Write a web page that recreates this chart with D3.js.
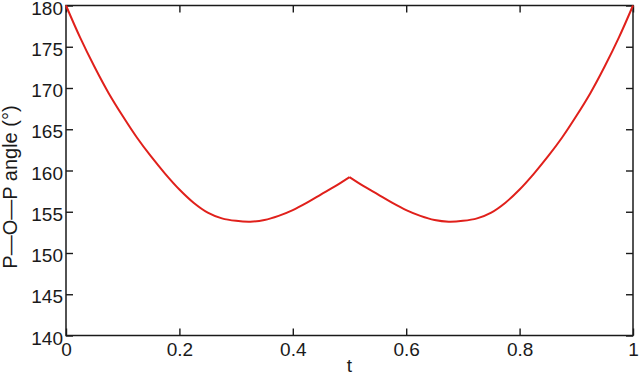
<!DOCTYPE html>
<html>
<head>
<meta charset="utf-8">
<script src="https://cdn.jsdelivr.net/npm/d3@7"></script>
<style>
  body { margin: 0; background: #fff; }
  svg { display: block; font-family: "Liberation Sans", Arial, sans-serif; }
</style>
</head>
<body>
<svg id="chart" width="640" height="377"></svg>
<script>
// values
const tValues = [0, 0.025, 0.05, 0.075, 0.1, 0.125, 0.15, 0.175, 0.2, 0.225, 0.25,
                 0.275, 0.3, 0.325, 0.35, 0.375, 0.4, 0.425, 0.45, 0.475, 0.5,
                 0.525, 0.55, 0.575, 0.6, 0.625, 0.65, 0.675, 0.7, 0.725, 0.75,
                 0.775, 0.8, 0.825, 0.85, 0.875, 0.9, 0.925, 0.95, 0.975, 1];
const angleValues = [180, 176.1, 172.6, 169.4, 166.6, 164.0, 161.7, 159.6, 157.7, 156.1, 154.9,
                     154.2, 153.9, 153.8, 154.0, 154.5, 155.2, 156.1, 157.1, 158.1, 159.2,
                     158.1, 157.1, 156.1, 155.2, 154.5, 154.0, 153.8, 153.9, 154.2, 154.9,
                     156.1, 157.7, 159.6, 161.7, 164.0, 166.6, 169.4, 172.6, 176.1, 180];
const xTicks = [0, 0.2, 0.4, 0.6, 0.8, 1];
const yTicks = [140, 145, 150, 155, 160, 165, 170, 175, 180];
const xTitle = 't';
const yTitle = 'P\u2014O\u2014P angle (\u00b0)';

(function () {
    const svg = d3.select('#chart');
    const pLeft = 66, pRight = 633, pTop = 5.5, pBottom = 335.5;
    const TICK = 7, INK = '#1a1a1a', FS = 19;

    const x = d3.scaleLinear().domain([0, 1]).range([pLeft, pRight]);
    const y = d3.scaleLinear().domain([140, 180]).range([pBottom, pTop]);

    // axes: ticks on all four sides, pointing inward
    svg.append('g').attr('transform', 'translate(0,' + pBottom + ')')
        .call(d3.axisBottom(x).tickValues(xTicks).tickSizeInner(-TICK).tickSizeOuter(0)
            .tickPadding(7).tickFormat(d3.format('~g')));
    svg.append('g').attr('transform', 'translate(0,' + pTop + ')')
        .call(d3.axisTop(x).tickValues(xTicks).tickSizeInner(-TICK).tickSizeOuter(0).tickFormat(''));
    const yAxis = svg.append('g').attr('transform', 'translate(' + pLeft + ',0)')
        .call(d3.axisLeft(y).tickValues(yTicks).tickSizeInner(-TICK).tickSizeOuter(0).tickPadding(3));
    svg.append('g').attr('transform', 'translate(' + pRight + ',0)')
        .call(d3.axisRight(y).tickValues(yTicks).tickSizeInner(-TICK).tickSizeOuter(0).tickFormat(''));

    svg.selectAll('.domain').remove();
    svg.selectAll('.tick line').attr('stroke', INK).attr('stroke-width', 1.4);
    svg.selectAll('.tick text').attr('fill', INK).attr('font-size', FS)
        .attr('font-family', '"Liberation Sans", Arial, sans-serif');
    yAxis.selectAll('.tick text').attr('dy', '0.45em');

    // frame
    svg.append('rect')
        .attr('x', pLeft).attr('y', pTop)
        .attr('width', pRight - pLeft).attr('height', pBottom - pTop)
        .attr('fill', 'none').attr('stroke', INK).attr('stroke-width', 1.5);

    // curve: two smooth halves meeting at the cusp at t = 0.5
    const pts = tValues.map(function (t, i) { return [t, angleValues[i]]; });
    const mid = tValues.indexOf(0.5);
    const line = d3.line()
        .x(function (d) { return x(d[0]); })
        .y(function (d) { return y(d[1]); })
        .curve(d3.curveCatmullRom.alpha(0.5));
    svg.append('path')
        .attr('d', line(pts.slice(0, mid + 1)) + line(pts.slice(mid)))
        .attr('fill', 'none')
        .attr('stroke', '#e0201b')
        .attr('stroke-width', 2)
        .attr('stroke-linejoin', 'round');

    // titles
    svg.append('text')
        .attr('x', (pLeft + pRight) / 2).attr('y', 372)
        .attr('text-anchor', 'middle').attr('font-size', FS).attr('fill', INK)
        .text(xTitle);
    svg.append('text')
        .attr('transform', 'translate(17,187) rotate(-90)')
        .attr('text-anchor', 'middle').attr('font-size', 20).attr('fill', INK)
        .text(yTitle);
})();
</script>
</body>
</html>
